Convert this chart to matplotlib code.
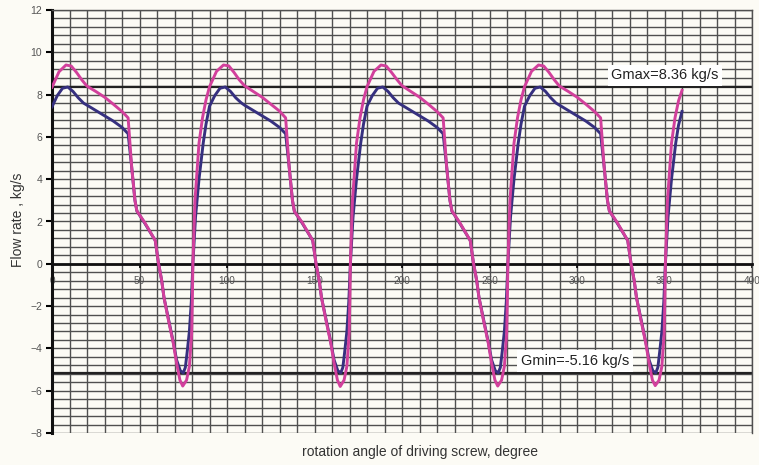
import numpy as np
import matplotlib
matplotlib.use("Agg")
import matplotlib.pyplot as plt
from matplotlib.ticker import MultipleLocator
from matplotlib.transforms import ScaledTranslation

plt.rcParams['font.family'] = ['Liberation Sans', 'DejaVu Sans']

# Screw rotation is periodic: each cycle spans 90 degrees of driving-screw angle
cycle_start = [0, 90, 180, 270]

# Angles inside one cycle at which the upper (magenta) curve is sampled
pink_offset = [0, 4, 8, 11, 14, 17, 20, 25, 30, 35, 40, 43.5, 45.5, 47.4, 48.5,
               53, 59, 60.8, 62.7, 64, 66.5, 69.3, 71.2, 73.1, 74.7, 76.9, 78.5,
               79.8, 80.2, 80.5, 81.7, 84, 86, 88]
pink_cycles = [
    [8.35, 9.08, 9.40, 9.35, 9.05, 8.70, 8.40, 8.15, 7.88, 7.55, 7.20, 6.90, 4.60,
     3.00, 2.50, 1.95, 1.10, 0.05, -0.80, -1.60, -2.65, -3.75, -4.70, -5.50, -5.78,
     -5.50, -4.85, -3.30, -1.70, 0.00, 3.00, 5.70, 6.90, 7.75],
    [8.37, 9.10, 9.40, 9.36, 9.05, 8.70, 8.42, 8.15, 7.88, 7.55, 7.22, 6.90, 4.60,
     3.00, 2.48, 1.95, 1.10, 0.05, -0.80, -1.60, -2.65, -3.75, -4.70, -5.50, -5.80,
     -5.50, -4.85, -3.30, -1.70, 0.00, 3.00, 5.70, 6.90, 7.75],
    [8.37, 9.10, 9.40, 9.35, 9.05, 8.72, 8.42, 8.15, 7.88, 7.55, 7.20, 6.90, 4.60,
     3.00, 2.50, 1.95, 1.10, 0.05, -0.80, -1.60, -2.65, -3.75, -4.70, -5.50, -5.78,
     -5.50, -4.85, -3.30, -1.70, 0.00, 3.00, 5.70, 6.90, 7.75],
    [8.37, 9.10, 9.40, 9.35, 9.05, 8.70, 8.40, 8.15, 7.88, 7.55, 7.20, 6.90, 4.60,
     3.00, 2.50, 1.95, 1.10, 0.05, -0.80, -1.60, -2.65, -3.75, -4.70, -5.50, -5.76,
     -5.50, -4.85, -3.30, -1.70, 0.00, 3.00, 5.70, 6.90, 7.70],
]

# Angles inside one cycle at which the lower (dark blue) curve is sampled
blue_offset = [0, 3, 6, 9, 12, 15, 18, 20, 25, 30, 35, 40, 43.5, 45.5, 47.4, 48.5,
               53, 59, 60.8, 62.7, 64, 66.5, 69.3, 71.2, 73.3, 75, 76.2, 77.2, 78.5,
               79.6, 80.5, 82, 84, 86.4, 88]
blue_cycles = [
    [7.42, 7.95, 8.30, 8.36, 8.15, 7.85, 7.60, 7.50, 7.25, 7.00, 6.75, 6.45, 6.15,
     4.60, 3.00, 2.50, 1.92, 1.10, 0.05, -0.80, -1.60, -2.60, -3.70, -4.55, -5.05,
     -5.16, -4.90, -4.20, -3.20, -1.80, 0.00, 2.20, 4.00, 5.70, 6.60],
    [7.45, 7.95, 8.30, 8.36, 8.15, 7.85, 7.62, 7.50, 7.25, 7.00, 6.75, 6.45, 6.15,
     4.60, 3.00, 2.48, 1.92, 1.10, 0.05, -0.80, -1.60, -2.60, -3.70, -4.55, -5.05,
     -5.16, -4.90, -4.20, -3.20, -1.80, 0.00, 2.20, 4.00, 5.70, 6.60],
    [7.45, 7.95, 8.30, 8.36, 8.15, 7.85, 7.60, 7.50, 7.25, 7.00, 6.75, 6.45, 6.15,
     4.60, 3.00, 2.50, 1.92, 1.10, 0.05, -0.80, -1.60, -2.60, -3.70, -4.55, -5.05,
     -5.16, -4.90, -4.20, -3.20, -1.80, 0.00, 2.20, 4.00, 5.70, 6.60],
    [7.45, 7.95, 8.30, 8.36, 8.15, 7.85, 7.60, 7.50, 7.25, 7.00, 6.75, 6.45, 6.15,
     4.60, 3.00, 2.50, 1.92, 1.10, 0.05, -0.80, -1.60, -2.60, -3.70, -4.55, -5.05,
     -5.16, -4.90, -4.20, -3.20, -1.80, 0.00, 2.20, 4.00, 5.70, 6.55],
]

# Final sample at the end of the fourth cycle
end_angle = 360
pink_end = 8.20
blue_end = 7.20

g_max = 8.36
g_min = -5.16
g_max_label = "Gmax=8.36 kg/s"
g_min_label = "Gmin=-5.16 kg/s"

x_ticks = [0, 50, 100, 150, 200, 250, 300, 350, 400]
y_ticks = [-8, -6, -4, -2, 0, 2, 4, 6, 8, 10, 12]


def assemble(offsets, cycles, last_x, last_y):
    xs, ys = [], []
    for start, vals in zip(cycle_start, cycles):
        xs.extend(start + o for o in offsets)
        ys.extend(vals)
    xs.append(last_x)
    ys.append(last_y)
    return np.array(xs), np.array(ys)


pink_x, pink_y = assemble(pink_offset, pink_cycles, end_angle, pink_end)
blue_x, blue_y = assemble(blue_offset, blue_cycles, end_angle, blue_end)

bg = '#fcfbf5'
grid_col = '#505050'

fig = plt.figure(figsize=(7.59, 4.65), dpi=100, facecolor=bg)
ax = fig.add_axes([52 / 759, 32 / 465, 700 / 759, 423 / 465])
ax.set_facecolor(bg)

ax.set_xlim(0, 400)
ax.set_ylim(-8, 12)

ax.set_xticks(x_ticks)
ax.set_yticks(y_ticks)
ax.xaxis.set_minor_locator(MultipleLocator(10))
ax.yaxis.set_minor_locator(MultipleLocator(0.4))
ax.grid(which='both', color=grid_col, linewidth=1.0, zorder=0)
ax.set_axisbelow(True)

ax.tick_params(which='minor', length=0)
ax.tick_params(axis='y', which='major', direction='out', length=4, width=1.5,
               color='black', pad=3, labelsize=7.5, labelcolor='#555555')
ax.tick_params(axis='x', which='major', direction='out', length=3, width=1.2,
               color='black', pad=6, labelsize=7.2, labelcolor='#555555')

# keep the last angle label inside the figure edge
last_lbl = ax.get_xticklabels()[-1]
last_lbl.set_transform(last_lbl.get_transform()
                       + ScaledTranslation(-4 / 72, 0, fig.dpi_scale_trans))

ax.spines['bottom'].set_position(('data', 0))
ax.spines['bottom'].set_linewidth(2.0)
ax.spines['bottom'].set_color('#111111')
ax.spines['left'].set_linewidth(2.2)
ax.spines['left'].set_color('#111111')
for side in ('top', 'right'):
    ax.spines[side].set_color(grid_col)
    ax.spines[side].set_linewidth(1.0)

# Reference levels for the extreme flow rates
ax.axhline(g_max, color='#222222', linewidth=1.6, zorder=2)
ax.axhline(g_min, color='#222222', linewidth=1.6, zorder=2)

ax.plot(blue_x, blue_y, color='#36307f', linewidth=2.1, zorder=3,
        solid_joinstyle='round')
ax.plot(pink_x, pink_y, color='#d2409c', linewidth=2.1, zorder=4,
        solid_joinstyle='round')

box = dict(boxstyle='square,pad=0.25', facecolor='white', edgecolor='none')
ax.text(350.3, 8.91, g_max_label, ha='center', va='center', fontsize=10.5,
        color='#222222', bbox=box, zorder=5)
ax.text(298.9, -4.59, g_min_label, ha='center', va='center', fontsize=10.5,
        color='#222222', bbox=box, zorder=5)

fig.text(18 / 759, 1 - 220 / 465, "Flow rate , kg/s", rotation=90,
         ha='center', va='center', fontsize=10, color='#333333')
fig.text(420 / 759, 1 - 452 / 465, "rotation angle of driving screw, degree",
         ha='center', va='center', fontsize=10, color='#333333')

fig.savefig('out.png', dpi=100, facecolor=bg)
